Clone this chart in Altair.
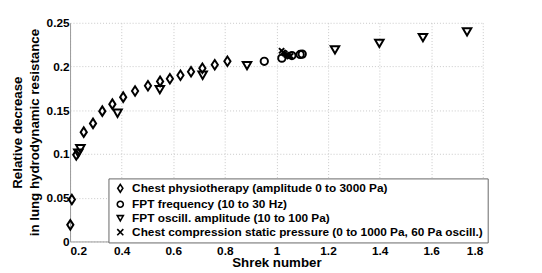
import altair as alt
import pandas as pd

# Chest physiotherapy (amplitude 0 to 3000 Pa)
cp_x = [0.201, 0.207, 0.224, 0.253, 0.289, 0.325, 0.364, 0.406, 0.452, 0.502,
        0.549, 0.587, 0.628, 0.669, 0.713, 0.761, 0.810]
cp_y = [0.019, 0.048, 0.099, 0.125, 0.135, 0.149, 0.157, 0.165, 0.172, 0.178,
        0.183, 0.186, 0.190, 0.194, 0.198, 0.202, 0.206]

# FPT frequency (10 to 30 Hz)
ff_x = [0.953, 1.021, 1.06, 1.092, 1.100]
ff_y = [0.206, 0.2096, 0.2125, 0.2138, 0.2142]

# FPT oscill. amplitude (10 to 100 Pa)
fa_x = [0.232, 0.240, 0.384, 0.548, 0.714, 0.886, 1.227, 1.399, 1.568, 1.739]
fa_y = [0.101, 0.106, 0.1466, 0.1736, 0.190, 0.201, 0.219, 0.2265, 0.233, 0.2396]

# Chest compression static pressure (0 to 1000 Pa, 60 Pa oscill.)
cc_x = [1.020, 1.026, 1.032, 1.038, 1.044, 1.050, 1.055]
cc_y = [0.218, 0.216, 0.215, 0.2135, 0.2125, 0.2115, 0.212]

names = [
    "Chest physiotherapy (amplitude 0 to 3000 Pa)",
    "FPT frequency (10 to 30 Hz)",
    "FPT oscill. amplitude (10 to 100 Pa)",
    "Chest compression static pressure (0 to 1000 Pa, 60 Pa oscill.)",
]

rows = []
for name, xs, ys in zip(names, [cp_x, ff_x, fa_x, cc_x], [cp_y, ff_y, fa_y, cc_y]):
    for a, b in zip(xs, ys):
        rows.append({"x": a, "y": b, "series": name})
df = pd.DataFrame(rows)

FONT = "Liberation Sans"

shapes = ["M0,-1.3L0.85,0L0,1.3L-0.85,0Z", "circle", "triangle-down",
          "M-1,-1L1,1M-1,1L1,-1"]
sizes = [55, 55, 75, 28]

legend = alt.Legend(
    title=None, orient="none", legendX=39, legendY=158, symbolSize=38,
    rowPadding=1.2, symbolStrokeWidth=1.6, symbolFillColor="transparent",
    symbolStrokeColor="black", symbolOffset=2,
)

base = alt.Chart(df).encode(
    x=alt.X("x:Q", title="Shrek number",
            scale=alt.Scale(domain=[0.2, 1.8], nice=False, zero=False),
            axis=alt.Axis(values=[0.2, 0.4, 0.6, 0.8, 1.0, 1.2, 1.4, 1.6, 1.8],
                          format="~g", labelPadding=4, titlePadding=-1)),
    y=alt.Y("y:Q", title=["Relative decrease", "in lung hydrodynamic resistance"],
            scale=alt.Scale(domain=[0, 0.25], nice=False),
            axis=alt.Axis(values=[0, 0.05, 0.1, 0.15, 0.2, 0.25], format="~g",
                          labelPadding=1, titlePadding=5)),
    shape=alt.Shape("series:N", scale=alt.Scale(domain=names, range=shapes),
                    legend=legend),
)

layers = []
for name, sz in zip(names, sizes):
    layers.append(
        base.transform_filter(alt.datum.series == name).mark_point(
            filled=False, stroke="black", fill="transparent", strokeWidth=2,
            opacity=1, size=sz
        )
    )

chart = alt.layer(*layers).properties(
    width=419, height=222,
    autosize=alt.AutoSizeParams(type="none"),
    padding={"left": 63, "top": 13, "right": 52, "bottom": 30},
).configure_axis(
    labelFont=FONT, labelFontWeight="bold", labelFontSize=12, labelColor="black",
    titleFont=FONT, titleFontWeight="bold", titleFontSize=13.5, titleColor="black",
    gridDash=[1, 2], gridColor="#c8c8c8", gridWidth=1,
    domainColor="#999999", tickSize=0, titleLineHeight=17,
).configure_legend(
    labelFont=FONT, labelFontWeight="bold", labelFontSize=12, labelColor="black",
    fillColor="white", strokeColor="#666666", padding=4,
    labelOffset=6, labelLimit=500,
).configure_view(stroke=None)

chart.save("out.html", embed_options={"renderer": "svg", "actions": False})
